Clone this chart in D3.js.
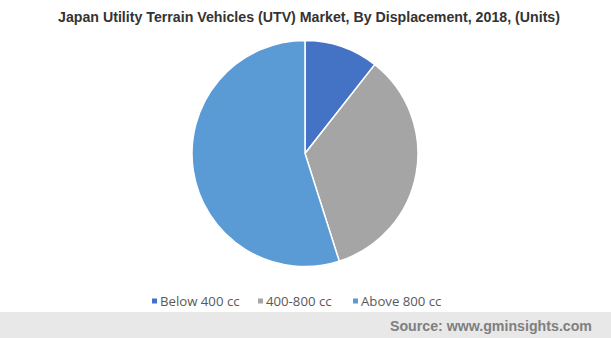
<!DOCTYPE html>
<html><head><meta charset="utf-8">
<script src="https://cdn.jsdelivr.net/npm/d3@7"></script>
<style>body{margin:0;background:#fff;}svg{display:block;}</style>
</head><body>
<script>
const categories = ["Below 400 cc", "400-800 cc", "Above 800 cc"];
const values = [10.6, 34.5, 54.9];
const colors = ["#4472C4", "#A5A5A5", "#5B9BD5"];
const title = "Japan Utility Terrain Vehicles (UTV) Market, By Displacement, 2018, (Units)";
const source = "Source: www.gminsights.com";

const W = 611, H = 338;
const svg = d3.select("body").append("svg").attr("width", W).attr("height", H);
svg.append("rect").attr("width", W).attr("height", H).attr("fill", "#fff");

svg.append("text").attr("x", 309).attr("y", 21.5).attr("text-anchor", "middle")
  .attr("font-family", "Liberation Sans, Arial, sans-serif").attr("font-weight", "bold")
  .attr("font-size", 14.2).attr("fill", "#333").text(title);

const data = categories.map((c, i) => ({c, v: values[i], col: colors[i]}));
const pie = d3.pie().sort(null).value(d => d.v);
const arc = d3.arc().innerRadius(0).outerRadius(113);
const g = svg.append("g").attr("transform", "translate(305,153.5)");
g.selectAll("path").data(pie(data)).join("path")
  .attr("d", arc).attr("fill", d => d.data.col)
  .attr("stroke", "#fff").attr("stroke-width", 1.5);

const color = d3.scaleOrdinal().domain(categories).range(colors);
const legendX = [152, 258, 353];
const lg = svg.append("g");
categories.forEach((c, i) => {
  lg.append("rect").attr("x", legendX[i]).attr("y", 298.5).attr("width", 5).attr("height", 5).attr("fill", color(c));
  lg.append("text").attr("x", legendX[i] + 8).attr("y", 306)
    .attr("font-family", "Open Sans, sans-serif").attr("font-size", 13.2).attr("fill", "#595959").text(c);
});

svg.append("rect").attr("x", 0).attr("y", 312).attr("width", W).attr("height", 26).attr("fill", "#e8e8e8");
svg.append("text").attr("x", 592).attr("y", 331).attr("text-anchor", "end")
  .attr("font-family", "Liberation Sans, Arial, sans-serif").attr("font-weight", "bold")
  .attr("font-size", 14.2).attr("fill", "#7f7f7f").text(source);
</script>
</body></html>
